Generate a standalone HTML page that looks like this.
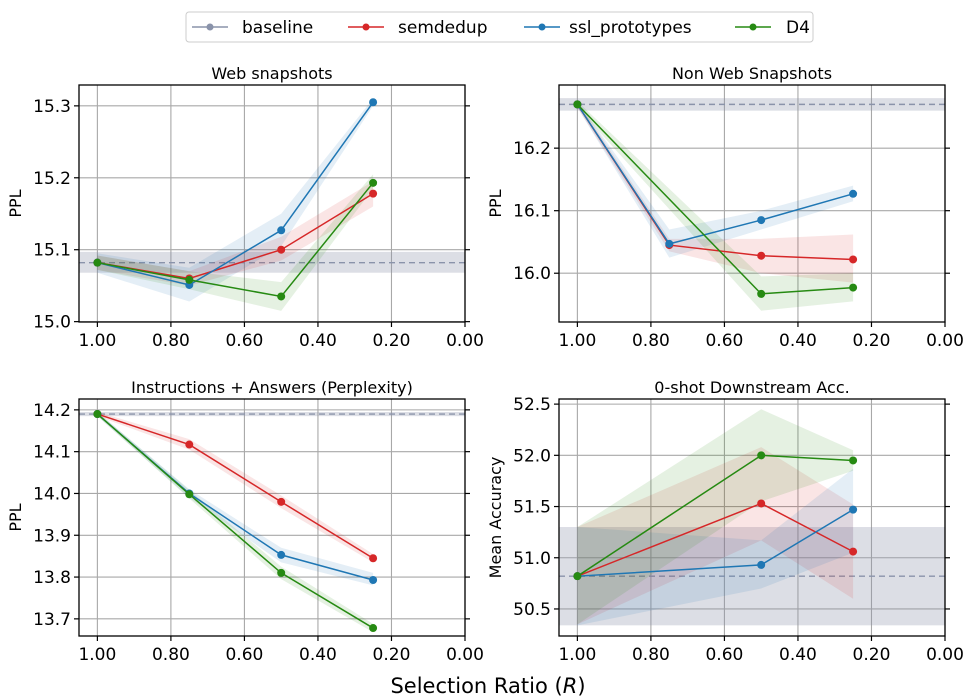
<!DOCTYPE html>
<html><head><meta charset="utf-8"><style>
body{margin:0;background:#fff;}
svg{display:block;font-family:"DejaVu Sans","Liberation Sans",sans-serif;}
</style></head><body>
<svg id="fig" width="976" height="699" viewBox="0 0 976 699">
<g>
<rect x="186" y="12" width="627" height="30" rx="3" fill="#fff" stroke="#ccc"/>
<g><line x1="192" y1="27" x2="228" y2="27" stroke="#8a93aa" stroke-width="1.5"/><circle cx="210" cy="27" r="3.5" fill="#8a93aa"/><text x="242" y="33" font-size="17">baseline</text></g>
<g><line x1="348" y1="27" x2="384" y2="27" stroke="#d62728" stroke-width="1.5"/><circle cx="366" cy="27" r="3.5" fill="#d62728"/><text x="398" y="33" font-size="17">semdedup</text></g>
<g><line x1="524" y1="27" x2="560" y2="27" stroke="#1f77b4" stroke-width="1.5"/><circle cx="542" cy="27" r="3.5" fill="#1f77b4"/><text x="569" y="33" font-size="17">ssl_prototypes</text></g>
<g><line x1="735" y1="27" x2="771" y2="27" stroke="#268a12" stroke-width="1.5"/><circle cx="753" cy="27" r="3.5" fill="#268a12"/><text x="786" y="33" font-size="17">D4</text></g>
</g>
<text x="488" y="693" font-size="21" text-anchor="middle">Selection Ratio (<tspan font-style="italic">R</tspan>)</text>
</svg>
<script>
const xTicks=[1.0,0.8,0.6,0.4,0.2,0.0];
const xLabels=["1.00","0.80","0.60","0.40","0.20","0.00"];
const xs4=[1.0,0.75,0.5,0.25];
const xs3=[1.0,0.5,0.25];
// Panel 1
const p1Ticks=[15.0,15.1,15.2,15.3];
const p1Base=15.082, p1BaseLo=15.068, p1BaseHi=15.097;
const p1Sem=[15.082,15.060,15.100,15.178], p1SemLo=[15.072,15.050,15.085,15.160], p1SemHi=[15.092,15.070,15.118,15.195];
const p1Ssl=[15.082,15.051,15.127,15.305], p1SslLo=[15.068,15.028,15.105,15.300], p1SslHi=[15.095,15.075,15.150,15.310];
const p1D4=[15.082,15.058,15.035,15.193], p1D4Lo=[15.072,15.045,15.015,15.185], p1D4Hi=[15.092,15.070,15.055,15.205];
// Panel 2
const p2Ticks=[16.0,16.1,16.2];
const p2Base=16.27, p2BaseLo=16.26, p2BaseHi=16.28;
const p2Sem=[16.27,16.045,16.028,16.022], p2SemLo=[16.265,16.035,16.000,15.985], p2SemHi=[16.275,16.055,16.055,16.062];
const p2Ssl=[16.27,16.047,16.085,16.127], p2SslLo=[16.265,16.025,16.070,16.115], p2SslHi=[16.275,16.070,16.100,16.140];
const p2D4=[16.27,15.967,15.977], p2D4Lo=[16.265,15.940,15.955], p2D4Hi=[16.275,15.995,16.000];
// Panel 3
const p3Ticks=[13.7,13.8,13.9,14.0,14.1,14.2];
const p3Base=14.19, p3BaseLo=14.185, p3BaseHi=14.195;
const p3Sem=[14.19,14.117,13.98,13.845], p3SemLo=[14.185,14.105,13.965,13.835], p3SemHi=[14.195,14.130,13.995,13.855];
const p3Ssl=[14.19,14.0,13.853,13.793], p3SslLo=[14.185,13.990,13.835,13.780], p3SslHi=[14.195,14.010,13.870,13.810];
const p3D4=[14.19,13.998,13.81,13.678], p3D4Lo=[14.185,13.988,13.795,13.668], p3D4Hi=[14.195,14.008,13.825,13.688];
// Panel 4
const p4Ticks=[50.5,51.0,51.5,52.0,52.5];
const p4Base=50.82, p4BaseLo=50.34, p4BaseHi=51.30;
const p4Sem=[50.82,51.53,51.06], p4SemLo=[50.35,51.17,50.60], p4SemHi=[51.30,52.08,51.52];
const p4Ssl=[50.82,50.93,51.47], p4SslLo=[50.34,50.70,51.05], p4SslHi=[51.30,51.17,51.87];
const p4D4=[50.82,52.00,51.95], p4D4Lo=[50.35,51.55,51.85], p4D4Hi=[51.30,52.45,52.05];

const NS="http://www.w3.org/2000/svg";
const svg=document.getElementById('fig');
function mk(tag,attrs,parent){const e=document.createElementNS(NS,tag);for(const k in attrs)e.setAttribute(k,attrs[k]);(parent||svg).appendChild(e);return e;}
const COL={sem:"#d62728",ssl:"#1f77b4",d4:"#268a12",base:"#8a93aa"};
function panel(o){
 const g=mk('g',{});
 
 
 const L=o.L,R=o.R,T=o.T,B=o.B;
 const sx=v=>L+(1.05-v)/1.05*(R-L);
 const sy=v=>B-(v-o.y0)/(o.y1-o.y0)*(B-T);
 const clip='c'+o.name;
 const cp=mk('clipPath',{id:clip},g);mk('rect',{x:L,y:T,width:R-L,height:B-T},cp);
 xTicks.forEach(t=>{const l=mk('line',{x1:sx(t),x2:sx(t),y1:T,y2:B,stroke:"#a8a8a8","stroke-width":1.1},g);});
 o.yt.forEach(t=>{const l=mk('line',{x1:L,x2:R,y1:sy(t),y2:sy(t),stroke:"#a8a8a8","stroke-width":1.1},g);});
 const cg=mk('g',{'clip-path':`url(#${clip})`},g);
 const bb=mk('rect',{x:L,y:sy(o.bh),width:R-L,height:sy(o.bl)-sy(o.bh),fill:COL.base,opacity:0.3},cg);
 
 const bl=mk('line',{x1:L,x2:R,y1:sy(o.b),y2:sy(o.b),stroke:COL.base,"stroke-width":1.4,"stroke-dasharray":"6,4"},cg);
 
 const series=[["semdedup",COL.sem,o.sem,o.semLo,o.semHi,o.xs],["ssl-prototypes",COL.ssl,o.ssl,o.sslLo,o.sslHi,o.xs],["d4",COL.d4,o.d4,o.d4Lo,o.d4Hi,o.d4xs||o.xs]];
 series.forEach(s=>{
  const xs=s[5];
  let pts=xs.map((x,i)=>sx(x)+','+sy(s[4][i])).concat(xs.map((x,i)=>sx(x)+','+sy(s[3][i])).reverse());
  const p=mk('polygon',{points:pts.join(' '),fill:s[1],opacity:0.12},cg);
  
 });
 series.forEach(s=>{
  const xs=s[5];
  const pl=mk('polyline',{points:xs.map((x,i)=>sx(x)+','+sy(s[2][i])).join(' '),fill:'none',stroke:s[1],"stroke-width":1.5},g);
  
  xs.forEach((x,i)=>{const c=mk('circle',{cx:sx(x),cy:sy(s[2][i]),r:4,fill:s[1]},g);});
 });
 mk('rect',{x:L,y:T,width:R-L,height:B-T,fill:'none',stroke:'#000',"stroke-width":1.3},g);
 xTicks.forEach((t,i)=>{mk('line',{x1:sx(t),x2:sx(t),y1:B,y2:B+5,stroke:'#000',"stroke-width":1.2},g);
  const tx=mk('text',{x:sx(t),y:B+24,"font-size":17,"text-anchor":"middle"},g);tx.textContent=xLabels[i];
  });
 o.yt.forEach(t=>{const y=sy(t);mk('line',{x1:L-5,x2:L,y1:y,y2:y,stroke:'#000',"stroke-width":1.2},g);mk('line',{x1:R,x2:R+5,y1:y,y2:y,stroke:'#000',"stroke-width":1.2},g);
  const tx=mk('text',{x:L-8,y:y+6,"font-size":17,"text-anchor":"end"},g);tx.textContent=t.toFixed(1);
  });
 const ti=mk('text',{x:(L+R)/2,y:T-6,"font-size":16,"text-anchor":"middle"},g);ti.textContent=o.title;
 
 const yl=mk('text',{x:0,y:0,"font-size":16,"text-anchor":"middle",transform:`translate(${o.ylx},${(T+B)/2}) rotate(-90)`},g);yl.textContent=o.ylab;
 
}
panel({name:'panel-web-snapshots',title:'Web snapshots',ylab:'PPL',ylx:21,L:79,R:465,T:85,B:322,y0:14.9995,y1:15.329,yt:p1Ticks,xs:xs4,b:p1Base,bl:p1BaseLo,bh:p1BaseHi,sem:p1Sem,semLo:p1SemLo,semHi:p1SemHi,ssl:p1Ssl,sslLo:p1SslLo,sslHi:p1SslHi,d4:p1D4,d4Lo:p1D4Lo,d4Hi:p1D4Hi});
panel({name:'panel-non-web-snapshots',title:'Non Web Snapshots',ylab:'PPL',ylx:501,L:559,R:945,T:85,B:322,y0:15.922,y1:16.301,yt:p2Ticks,xs:xs4,d4xs:xs3,b:p2Base,bl:p2BaseLo,bh:p2BaseHi,sem:p2Sem,semLo:p2SemLo,semHi:p2SemHi,ssl:p2Ssl,sslLo:p2SslLo,sslHi:p2SslHi,d4:p2D4,d4Lo:p2D4Lo,d4Hi:p2D4Hi});
panel({name:'panel-instructions-answers',title:'Instructions + Answers (Perplexity)',ylab:'PPL',ylx:21,L:79,R:465,T:399,B:636,y0:13.659,y1:14.226,yt:p3Ticks,xs:xs4,b:p3Base,bl:p3BaseLo,bh:p3BaseHi,sem:p3Sem,semLo:p3SemLo,semHi:p3SemHi,ssl:p3Ssl,sslLo:p3SslLo,sslHi:p3SslHi,d4:p3D4,d4Lo:p3D4Lo,d4Hi:p3D4Hi});
panel({name:'panel-downstream-accuracy',title:'0-shot Downstream Acc.',ylab:'Mean Accuracy',ylx:501,L:559,R:945,T:399,B:636,y0:50.236,y1:52.55,yt:p4Ticks,xs:xs3,b:p4Base,bl:p4BaseLo,bh:p4BaseHi,sem:p4Sem,semLo:p4SemLo,semHi:p4SemHi,ssl:p4Ssl,sslLo:p4SslLo,sslHi:p4SslHi,d4:p4D4,d4Lo:p4D4Lo,d4Hi:p4D4Hi});
</script>
</body></html>
